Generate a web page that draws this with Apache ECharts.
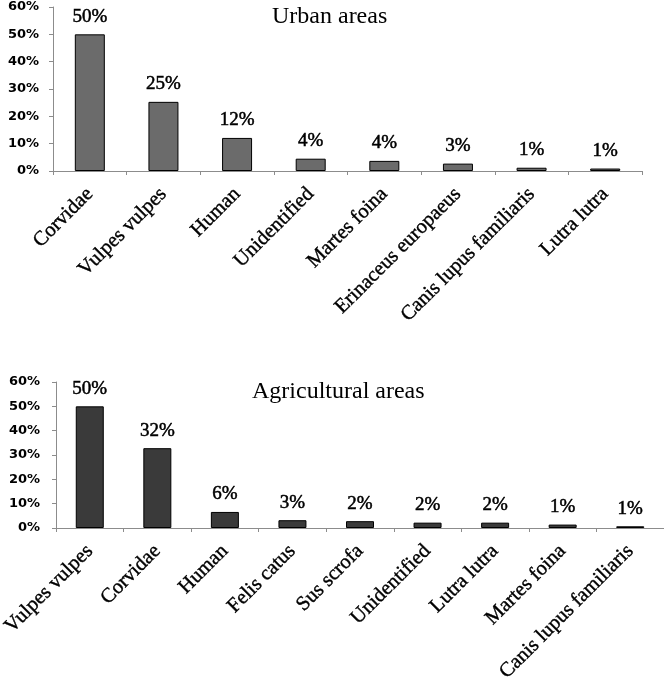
<!DOCTYPE html>
<html lang="en">
<head>
    <meta charset="UTF-8">
    <title>Urban and agricultural areas</title>
    <script src="https://cdn.jsdelivr.net/npm/echarts@6/dist/echarts.min.js"></script>
    <style>
        html, body { margin: 0; padding: 0; background: #fff; }
    </style>
</head>
<body>
    <div id="main" style="width: 664px;height: 681px;"></div>
    <script>
        // urban areas
        var urbanCats = ['Corvidae', 'Vulpes vulpes', 'Human', 'Unidentified', 'Martes foina',
            'Erinaceus europaeus', 'Canis lupus familiaris', 'Lutra lutra'];
        var urbanVals = [50, 25.3, 12.1, 4.5, 3.7, 2.7, 1.2, 0.9];
        var urbanLabels = ['50%', '25%', '12%', '4%', '4%', '3%', '1%', '1%'];

        // agricultural areas
        var agriCats = ['Vulpes vulpes', 'Corvidae', 'Human', 'Felis catus', 'Sus scrofa',
            'Unidentified', 'Lutra lutra', 'Martes foina', 'Canis lupus familiaris'];
        var agriVals = [50, 32.8, 6.6, 3.2, 2.8, 2.2, 2.2, 1.4, 0.7];
        var agriLabels = ['50%', '32%', '6%', '3%', '2%', '2%', '2%', '1%', '1%'];

        var yTicks = [0, 10, 20, 30, 40, 50, 60];

        var serif = '"Liberation Serif", "Times New Roman", serif';
        var axisGrey = '#8c8c8c';

        function xAxisFor(cats, idx) {
            return {
                type: 'category',
                gridIndex: idx,
                data: cats,
                axisLine: { lineStyle: { color: axisGrey, width: 1 } },
                axisTick: { show: true, length: 4, inside: false, lineStyle: { color: axisGrey } },
                axisLabel: {
                    interval: 0,
                    rotate: 45,
                    margin: 20,
                    fontFamily: serif,
                    fontSize: 20.5,
                    color: '#000',
                    textBorderColor: '#000',
                    textBorderWidth: 0.4
                }
            };
        }

        function yAxisFor(idx, margin) {
            return {
                type: 'value',
                gridIndex: idx,
                min: yTicks[0],
                max: yTicks[yTicks.length - 1],
                interval: 10,
                splitLine: { show: false },
                axisLine: { show: true, lineStyle: { color: axisGrey, width: 1 } },
                axisTick: { show: true, length: 4, lineStyle: { color: axisGrey } },
                axisLabel: {
                    margin: margin,
                    formatter: '{value}%',
                    fontFamily: '"DejaVu Sans", Verdana, sans-serif',
                    fontWeight: 'bold',
                    fontSize: 13,
                    color: '#000'
                }
            };
        }

        function seriesFor(vals, labels, idx, color, barW) {
            return {
                type: 'bar',
                xAxisIndex: idx,
                yAxisIndex: idx,
                data: vals,
                barWidth: barW,
                animation: false,
                itemStyle: { color: color, borderColor: '#000', borderWidth: 1 },
                label: {
                    show: true,
                    position: 'top',
                    distance: 8,
                    fontFamily: serif,
                    fontSize: 19,
                    color: '#000',
                    textBorderColor: '#000',
                    textBorderWidth: 0.5,
                    formatter: function (p) { return labels[p.dataIndex]; }
                }
            };
        }

        var titleFont = { fontFamily: serif, fontSize: 24, fontWeight: 'normal', color: '#000' };

        var chart = echarts.init(document.getElementById('main'));
        chart.setOption({
            backgroundColor: '#fff',
            title: [{
                text: 'Urban areas',
                left: 272,
                top: 5,
                padding: 0,
                textStyle: titleFont
            }, {
                text: 'Agricultural areas',
                left: 252,
                top: 380,
                padding: 0,
                textStyle: titleFont
            }],
            grid: [
                { left: 53, top: 7, width: 589, height: 164, outerBoundsMode: 'none', containLabel: false },
                { left: 56, top: 382, width: 608, height: 146, outerBoundsMode: 'none', containLabel: false }
            ],
            xAxis: [xAxisFor(urbanCats, 0), xAxisFor(agriCats, 1)],
            yAxis: [yAxisFor(0, 14), yAxisFor(1, 16)],
            series: [
                seriesFor(urbanVals, urbanLabels, 0, '#6b6b6b', 30),
                seriesFor(agriVals, agriLabels, 1, '#3a3a3a', 28)
            ]
        });
    </script>
</body>
</html>
